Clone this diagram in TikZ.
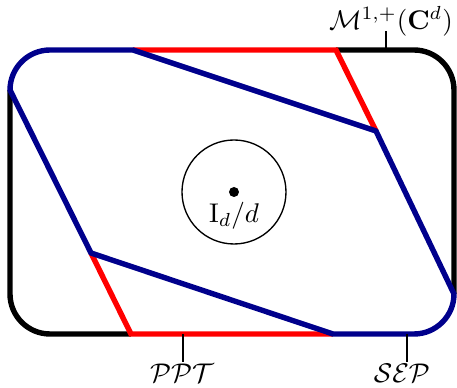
\documentclass[tikz,border=0pt]{standalone}
\usepackage{amsmath}
\begin{document}
\begin{tikzpicture}[x=0.37pt,y=-0.37pt,
  bnd/.style={line width=2pt},
  sepc/.style={bnd,color=sepblue},
  pptc/.style={bnd,color=red},
  tick/.style={line width=0.45pt},
  lbl/.style={inner sep=1pt}]
\definecolor{sepblue}{RGB}{0,0,140}
\useasboundingbox (0,0) rectangle (457,388);
% corners of the outer boundary
\coordinate (TL1) at (10,90);
\coordinate (TL2) at (50,50);
\coordinate (TR1) at (414,50);
\coordinate (TR2) at (454,90);
\coordinate (BR1) at (454,294);
\coordinate (BR2) at (414,334);
\coordinate (BL1) at (50,334);
\coordinate (BL2) at (10,294);
% polytope vertices
\coordinate (A) at (133,50);
\coordinate (B) at (336,50);
\coordinate (C) at (376,131);
\coordinate (D) at (333,334);
\coordinate (E) at (131,334);
\coordinate (F) at (91,253);
% black outer boundary (states)
\draw[bnd] (B) -- (TR1) arc (270:360:40) -- (BR1);
\draw[bnd] (E) -- (BL1) arc (90:180:40) -- (TL1);
% PPT (red)
\draw[pptc] (A) -- (B) -- (C);
\draw[pptc] (F) -- (E) -- (D);
% SEP (blue)
\draw[sepc,line join=round] (TL1) arc (180:270:40) -- (A) -- (C) -- (BR1) arc (0:90:40) -- (D) -- (F) -- cycle;
% maximally mixed state
\coordinate (O) at (234,192);
\draw[line width=0.5pt] (O) circle[radius=52];
\fill (O) circle[radius=5];
\node[lbl] (Id) at (234,216) {$\mathrm{I}_d/d$};
% labels
\coordinate (mtick) at (386,50);
\node[lbl] (M) at (391,21) {$\mathcal{M}^{1,+}(\mathbf{C}^d)$};
\draw[tick] (mtick) -- (386,31);
\coordinate (ptick) at (183,334);
\node[lbl] (P) at (182,373) {$\mathcal{PPT}$};
\draw[tick] (ptick) -- (183,362);
\coordinate (stick) at (407,334);
\node[lbl] (S) at (402,373) {$\mathcal{SEP}$};
\draw[tick] (stick) -- (407,362);
\end{tikzpicture}
\end{document}
